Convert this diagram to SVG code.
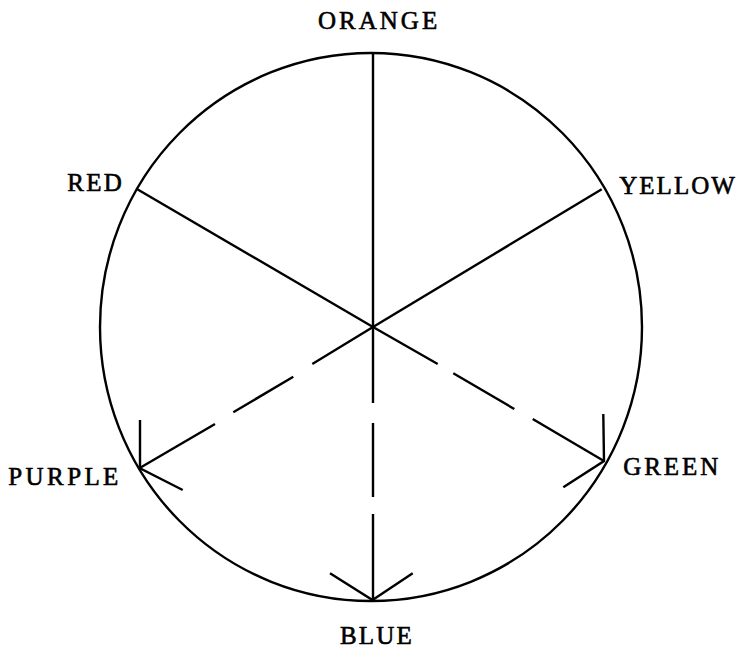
<svg xmlns="http://www.w3.org/2000/svg" width="738" height="650" viewBox="0 0 738 650">
<style>
.ln{stroke:#000;stroke-width:2.4;fill:none;stroke-linecap:butt}
.lb{font-family:"Liberation Serif","Times New Roman",serif;font-size:25px;fill:#000;stroke:#000;stroke-width:0.6}
</style>
<rect width="738" height="650" fill="#fff"/>
<g id="wheel">
<ellipse class="ln" cx="371" cy="327" rx="271" ry="274"/>
</g>
<g id="connectors">
<line class="ln" x1="373" y1="327" x2="373" y2="53"/>
<line class="ln" x1="373" y1="327" x2="137.3" y2="189.3"/>
<line class="ln" x1="373" y1="327" x2="601.7" y2="189.3"/>
<path class="ln" d="M373,327 L437.7,364 M453.3,373.3 L514.3,409 M532.7,419 L604,461"/>
<path class="ln" d="M373,327 L312.3,364 M293.3,376.7 L233.3,412.3 M215,424 L139.3,468.3"/>
<path class="ln" d="M373,327 L373,403 M373,423 L373,497 M373,514 L373,600"/>
<path class="ln" d="M140,420 L140,468.3 L182.7,490"/>
<path class="ln" d="M603.3,414 L604,461 L563.3,487.3"/>
<path class="ln" d="M330,573.3 L372.5,600 L412.7,573.3"/>
</g>
<g id="orange"><text class="lb" x="318" y="29.3" letter-spacing="3">ORANGE</text></g>
<g id="red"><text class="lb" x="67.3" y="190.7" letter-spacing="2.2">RED</text></g>
<g id="yellow"><text class="lb" x="619.3" y="194.3" letter-spacing="2">YELLOW</text></g>
<g id="purple"><text class="lb" x="8.3" y="485" letter-spacing="3.4">PURPLE</text></g>
<g id="green"><text class="lb" x="623.3" y="475" letter-spacing="2.9">GREEN</text></g>
<g id="blue"><text class="lb" x="340" y="644.3" letter-spacing="2.2">BLUE</text></g>
</svg>
